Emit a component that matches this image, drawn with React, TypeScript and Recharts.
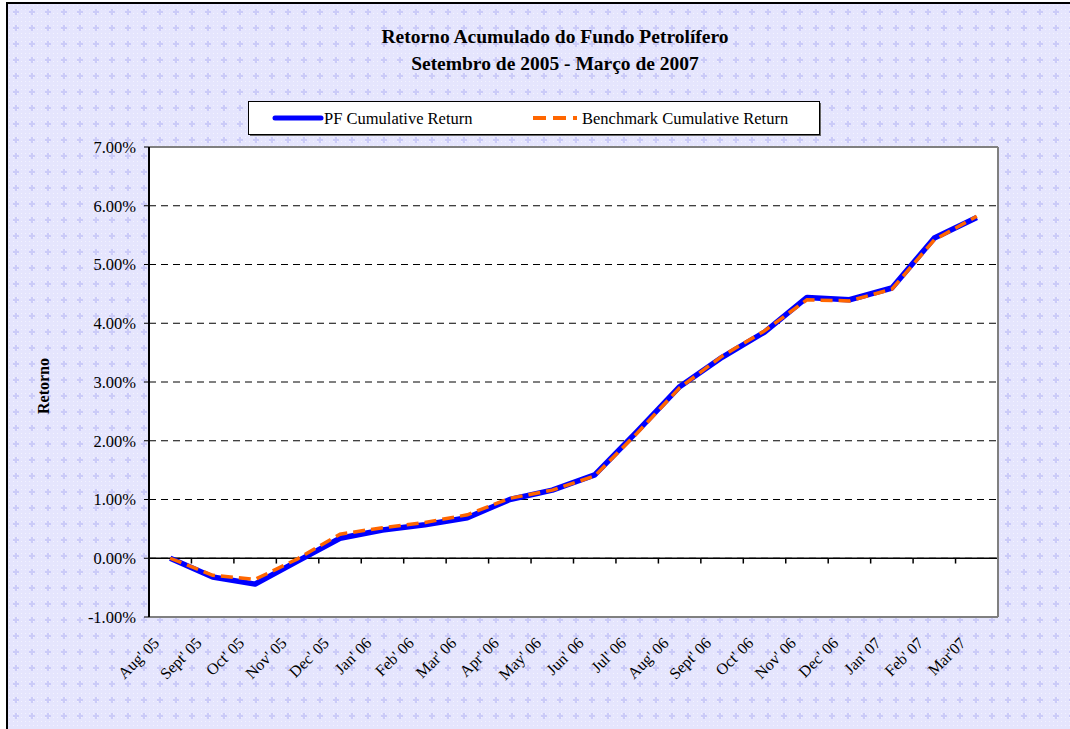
import React from "react";
import { LineChart, Line, XAxis, YAxis, CartesianGrid, ReferenceLine } from "recharts";

const months = [
  "Aug' 05", "Sept' 05", "Oct' 05", "Nov' 05", "Dec' 05", "Jan' 06", "Feb' 06", "Mar' 06",
  "Apr' 06", "May' 06", "Jun' 06", "Jul' 06", "Aug' 06", "Sept' 06", "Oct' 06", "Nov' 06",
  "Dec' 06", "Jan' 07", "Feb' 07", "Mar'07",
];
const pfReturn = [0.0, -0.32, -0.44, -0.05, 0.34, 0.48, 0.57, 0.69, 1.0, 1.16, 1.42, 2.16, 2.92, 3.42, 3.85, 4.44, 4.4, 4.6, 5.45, 5.8];
const benchReturn = [0.0, -0.29, -0.36, -0.01, 0.41, 0.52, 0.61, 0.74, 1.02, 1.16, 1.4, 2.13, 2.9, 3.44, 3.87, 4.4, 4.38, 4.58, 5.42, 5.82];
const yTicks = [-1, 0, 1, 2, 3, 4, 5, 6, 7];
const titleLines = ["Retorno Acumulado do Fundo Petrolífero", "Setembro de 2005 - Março de 2007"];
const seriesNames = ["PF Cumulative Return", "Benchmark Cumulative Return"];
const yLabel = "Retorno";

const data = months.map((m, i) => ({ x: i + 0.5, month: m, pf: pfReturn[i], bench: benchReturn[i] }));
const labelTicks = months.map((_, i) => i + 0.5);
const boundaries = months.slice(1).map((_, i) => i + 1);

const FONT = "'Liberation Serif', 'DejaVu Serif', serif";
const BLUE = "#0000FF";
const ORANGE = "#FF6600";

const patternSvg =
  "data:image/svg+xml;utf8," +
  encodeURIComponent(
    `<svg xmlns='http://www.w3.org/2000/svg' width='16' height='16'>` +
      `<rect width='16' height='16' fill='#e5e5fd'/>` +
      `<g fill='#f3f3ff'><rect x='1' y='1' width='1' height='1'/><rect x='5' y='1' width='1' height='1'/><rect x='9' y='1' width='1' height='1'/><rect x='13' y='1' width='1' height='1'/>` +
      `<rect x='1' y='5' width='1' height='1'/><rect x='5' y='5' width='1' height='1'/><rect x='9' y='5' width='1' height='1'/><rect x='13' y='5' width='1' height='1'/>` +
      `<rect x='1' y='9' width='1' height='1'/><rect x='5' y='9' width='1' height='1'/><rect x='9' y='9' width='1' height='1'/><rect x='13' y='9' width='1' height='1'/>` +
      `<rect x='1' y='13' width='1' height='1'/><rect x='5' y='13' width='1' height='1'/><rect x='9' y='13' width='1' height='1'/><rect x='13' y='13' width='1' height='1'/></g>` +
      `<g fill='#cbcbf8'><rect x='7' y='5' width='2' height='6'/><rect x='5' y='7' width='6' height='2'/></g>` +
      `</svg>`
  );

const XTick = (props: any) => {
  const { x, y, payload } = props;
  const label = months[Math.floor(payload.value)];
  const ax = x - 10;
  const ay = y + 27;
  return (
    <text
      x={ax}
      y={ay}
      transform={`rotate(-45 ${ax} ${ay})`}
      textAnchor="end"
      fontSize={16}
      fontFamily={FONT}
      fill="#000"
    >
      {label}
    </text>
  );
};

export default function App() {
  return (
    <div style={{ position: "absolute", left: 0, top: 0, width: 1070, height: 729, overflow: "hidden", background: "#fff" }}>
      <div
        style={{
          position: "absolute",
          left: 6,
          top: 2,
          width: 1120,
          height: 780,
          border: "2px solid #000",
          backgroundImage: `url("${patternSvg}")`,
          backgroundColor: "#e5e5fd",
        }}
      />
      {titleLines.map((t, i) => (
        <div
          key={i}
          style={{
            position: "absolute",
            left: 355,
            width: 400,
            top: 25 + i * 27,
            textAlign: "center",
            fontFamily: FONT,
            fontWeight: "bold",
            fontSize: 19.5,
            color: "#000",
            lineHeight: "24px",
          }}
        >
          {t}
        </div>
      ))}
      <svg style={{ position: "absolute", left: 0, top: 0 }} width={1070} height={729}>
        <rect x={248.5} y={101.5} width={571} height={33} fill="#fff" stroke="#000" strokeWidth={1} />
        <line x1={820.5} y1={103} x2={820.5} y2={136} stroke="#666" strokeWidth={1} />
        <line x1={250} y1={135.5} x2={821} y2={135.5} stroke="#666" strokeWidth={1} />
        <line x1={275} y1={118} x2={321} y2={118} stroke={BLUE} strokeWidth={5} strokeLinecap="round" />
        <text x={324} y={118} dy="0.35em" fontFamily={FONT} fontSize={16.5} fill="#000">
          {seriesNames[0]}
        </text>
        <line x1={533} y1={118} x2={577} y2={118} stroke={ORANGE} strokeWidth={4} strokeDasharray="13 7" />
        <text x={582} y={118} dy="0.35em" fontFamily={FONT} fontSize={16.5} fill="#000">
          {seriesNames[1]}
        </text>
        <text
          x={43}
          y={386}
          transform="rotate(-90 43 386)"
          textAnchor="middle"
          dy="0.35em"
          fontFamily={FONT}
          fontWeight="bold"
          fontSize={16}
          fill="#000"
        >
          {yLabel}
        </text>
      </svg>
      <div style={{ position: "absolute", left: 0, top: 0 }}>
        <LineChart width={1070} height={729} data={data} margin={{ top: 146, right: 71, left: 79, bottom: 32 }}>
          <CartesianGrid
            vertical={false}
            stroke="#000"
            strokeDasharray="7 5"
            fill="#fff"
            fillOpacity={1}
            yAxisId="l"
            xAxisId="b"
          />
          <XAxis
            xAxisId="b"
            dataKey="x"
            type="number"
            domain={[0, months.length]}
            ticks={labelTicks}
            interval={0}
            tickLine={false}
            tickSize={0}
            tickMargin={0}
            axisLine={{ stroke: "#808080", strokeWidth: 2 }}
            tick={<XTick />}
            height={80}
          />
          <XAxis
            xAxisId="t"
            orientation="top"
            type="number"
            domain={[0, months.length]}
            tick={false}
            tickLine={false}
            axisLine={{ stroke: "#808080", strokeWidth: 2 }}
            height={1}
          />
          <YAxis
            yAxisId="r"
            orientation="right"
            domain={[-1, 7]}
            tick={false}
            tickLine={false}
            axisLine={{ stroke: "#808080", strokeWidth: 2 }}
            width={1}
          />
          <YAxis
            yAxisId="l"
            domain={[-1, 7]}
            ticks={yTicks}
            interval={0}
            width={70}
            tickSize={5}
            tickMargin={8}
            tickLine={{ stroke: "#000", strokeWidth: 1 }}
            axisLine={{ stroke: "#000", strokeWidth: 2 }}
            tick={{ fill: "#000", fontSize: 16.5, fontFamily: FONT }}
            tickFormatter={(v: number) => v.toFixed(2) + "%"}
          />
          <ReferenceLine yAxisId="l" xAxisId="b" y={0} stroke="#000" strokeWidth={1.5} />
          {boundaries.map((b) => (
            <ReferenceLine
              key={b}
              yAxisId="l"
              xAxisId="b"
              segment={[
                { x: b, y: 0 },
                { x: b, y: -0.09 },
              ]}
              stroke="#000"
              strokeWidth={1.5}
            />
          ))}
          <Line
            yAxisId="l"
            xAxisId="b"
            type="linear"
            dataKey="pf"
            stroke={BLUE}
            strokeWidth={5.5}
            dot={false}
            isAnimationActive={false}
            strokeLinejoin="round"
          />
          <Line
            yAxisId="l"
            xAxisId="b"
            type="linear"
            dataKey="bench"
            stroke={ORANGE}
            strokeWidth={3.5}
            strokeDasharray="12 6"
            dot={false}
            isAnimationActive={false}
          />
        </LineChart>
      </div>
    </div>
  );
}
